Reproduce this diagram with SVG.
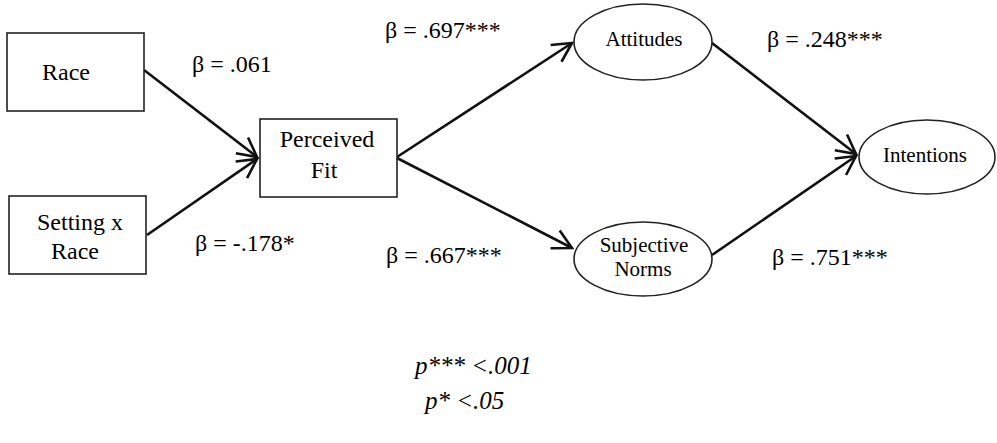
<svg xmlns="http://www.w3.org/2000/svg" width="997" height="443" viewBox="0 0 997 443">
<style>
.box{fill:#fff;stroke:#222;stroke-width:1.6}
.nt{font-family:'Liberation Serif','Times New Roman',serif;font-size:24px;fill:#000;text-anchor:middle}
.et{font-family:'Liberation Serif','Times New Roman',serif;font-size:21px;fill:#000;text-anchor:middle}
.lb{font-family:'Liberation Serif','Times New Roman',serif;font-size:24px;fill:#000}
.fn{font-family:'Liberation Serif','Times New Roman',serif;font-size:25px;font-style:italic;fill:#000}
.cn{stroke:#111;stroke-width:2.6;fill:none;marker-end:url(#ah)}
</style>
<defs>
<marker id="ah" markerUnits="userSpaceOnUse" markerWidth="26" markerHeight="26" viewBox="-23 -13 26 26" refX="0" refY="0" orient="auto">
<path d="M-19,-10 L0,0 L-19,10" fill="none" stroke="#111" stroke-width="2.6" stroke-linejoin="miter"/>
</marker>
</defs>
<rect width="997" height="443" fill="#fff"/>
<g id="connectors">
<line class="cn" x1="144" y1="70" x2="257" y2="157"/>
<line class="cn" x1="147" y1="235" x2="257" y2="159"/>
<line class="cn" x1="397" y1="157" x2="572" y2="43"/>
<line class="cn" x1="397" y1="158" x2="572" y2="248"/>
<line class="cn" x1="712" y1="43" x2="856" y2="154"/>
<line class="cn" x1="712" y1="255" x2="856" y2="156"/>
</g>
<g id="race">
<rect class="box" x="7" y="33" width="137" height="78"/>
<text class="nt" x="66" y="80">Race</text>
</g>
<g id="setting-race">
<rect class="box" x="9" y="196" width="137" height="78"/>
<text class="nt" x="80" y="230">Setting x</text>
<text class="nt" x="75" y="259">Race</text>
</g>
<g id="perceived-fit">
<rect class="box" x="260" y="119" width="137" height="78"/>
<text class="nt" x="327" y="147">Perceived</text>
<text class="nt" x="324" y="178">Fit</text>
</g>
<g id="attitudes">
<ellipse class="box" cx="643" cy="42" rx="69" ry="38"/>
<text class="et" x="644" y="46">Attitudes</text>
</g>
<g id="subjective-norms">
<ellipse class="box" cx="643" cy="259" rx="69" ry="37"/>
<text class="et" x="644" y="252">Subjective</text>
<text class="et" x="643" y="276">Norms</text>
</g>
<g id="intentions">
<ellipse class="box" cx="927" cy="157" rx="68" ry="37"/>
<text class="et" x="925" y="162">Intentions</text>
</g>
<g id="labels">
<text class="lb" x="192" y="72">β = .061</text>
<text class="lb" x="195" y="251">β = -.178*</text>
<text class="lb" x="385" y="38">β = .697***</text>
<text class="lb" x="386" y="263">β = .667***</text>
<text class="lb" x="767" y="47">β = .248***</text>
<text class="lb" x="772" y="265">β = .751***</text>
<text class="fn" x="415" y="374">p*** &lt;.001</text>
<text class="fn" x="425" y="409">p* &lt;.05</text>
</g>
</svg>
